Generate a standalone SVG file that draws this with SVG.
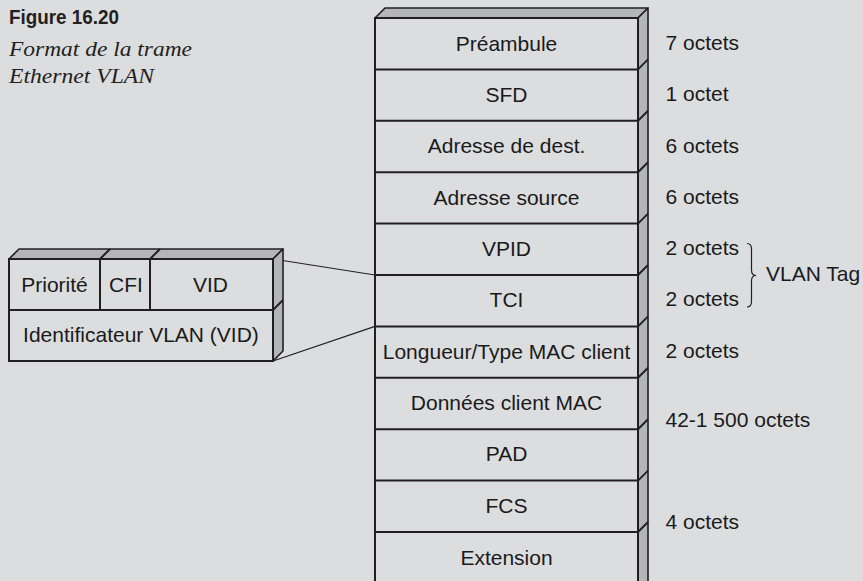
<svg xmlns="http://www.w3.org/2000/svg" width="863" height="581" viewBox="0 0 863 581">
<style>
.bg{fill:#dcdddf}
.face{fill:#dcdddf;stroke:#231f20;stroke-width:2}
.side{fill:#b4b5b8;stroke:#231f20;stroke-width:1.6;stroke-linejoin:round}
.ln{stroke:#231f20;stroke-width:2;fill:none}
.conn{stroke:#231f20;stroke-width:1.2;fill:none}
.t{font-family:"Liberation Sans",Arial,sans-serif;font-size:21px;fill:#1a1a1a}
.c{text-anchor:middle}
</style>
<rect class="bg" x="0" y="0" width="863" height="581"/>
<g id="caption">
<text x="9" y="23.5" font-family="'Liberation Sans',Arial,sans-serif" font-weight="bold" font-size="21" fill="#231f20" textLength="110" lengthAdjust="spacingAndGlyphs">Figure 16.20</text>
<text x="9" y="55.5" font-family="'Liberation Serif','Times New Roman',serif" font-style="italic" font-size="20" fill="#231f20" textLength="183" lengthAdjust="spacingAndGlyphs">Format de la trame</text>
<text x="9" y="82.5" font-family="'Liberation Serif','Times New Roman',serif" font-style="italic" font-size="20" fill="#231f20" textLength="145" lengthAdjust="spacingAndGlyphs">Ethernet VLAN</text>
</g>
<g id="connectors">
<line class="conn" x1="273" y1="259" x2="375" y2="275"/>
<line class="conn" x1="273" y1="361" x2="375" y2="326.4"/>
</g>
<g id="frame">
<polygon class="side" points="375,18 385,8 648,8 638,18"/>
<polygon class="side" points="638,18 648,8 648,590 638,600"/>
<rect class="face" x="375" y="18" width="263" height="570"/>
<g class="ln">
<line x1="638" y1="69.4" x2="648" y2="59.4"/>
<line x1="638" y1="120.8" x2="648" y2="110.8"/>
<line x1="638" y1="172.2" x2="648" y2="162.2"/>
<line x1="638" y1="223.6" x2="648" y2="213.6"/>
<line x1="638" y1="275" x2="648" y2="265"/>
<line x1="638" y1="326.4" x2="648" y2="316.4"/>
<line x1="638" y1="377.8" x2="648" y2="367.8"/>
<line x1="638" y1="429.2" x2="648" y2="419.2"/>
<line x1="638" y1="480.6" x2="648" y2="470.6"/>
<line x1="638" y1="532" x2="648" y2="522"/>
<line x1="375" y1="69.4" x2="638" y2="69.4"/>
<line x1="375" y1="120.8" x2="638" y2="120.8"/>
<line x1="375" y1="172.2" x2="638" y2="172.2"/>
<line x1="375" y1="223.6" x2="638" y2="223.6"/>
<line x1="375" y1="275" x2="638" y2="275"/>
<line x1="375" y1="326.4" x2="638" y2="326.4"/>
<line x1="375" y1="377.8" x2="638" y2="377.8"/>
<line x1="375" y1="429.2" x2="638" y2="429.2"/>
<line x1="375" y1="480.6" x2="638" y2="480.6"/>
<line x1="375" y1="532" x2="638" y2="532"/>
</g>
</g>
<g id="f-preambule"><text class="t c" x="506.5" y="50.7">Préambule</text></g>
<g id="f-sfd"><text class="t c" x="506.5" y="102">SFD</text></g>
<g id="f-dest"><text class="t c" x="506.5" y="153.4">Adresse de dest.</text></g>
<g id="f-src"><text class="t c" x="506.5" y="204.8">Adresse source</text></g>
<g id="f-vpid"><text class="t c" x="506.5" y="256">VPID</text></g>
<g id="f-tci"><text class="t c" x="506.5" y="307.4">TCI</text></g>
<g id="f-len"><text class="t c" x="506.5" y="358.6">Longueur/Type MAC client</text></g>
<g id="f-data"><text class="t c" x="506.5" y="410">Données client MAC</text></g>
<g id="f-pad"><text class="t c" x="506.5" y="461.4">PAD</text></g>
<g id="f-fcs"><text class="t c" x="506.5" y="512.8">FCS</text></g>
<g id="f-ext"><text class="t c" x="506.5" y="564.5">Extension</text></g>
<g id="sizes">
<text class="t" x="665.5" y="50">7 octets</text>
<text class="t" x="665.5" y="101">1 octet</text>
<text class="t" x="665.5" y="153">6 octets</text>
<text class="t" x="665.5" y="204">6 octets</text>
<text class="t" x="665.5" y="255">2 octets</text>
<text class="t" x="665.5" y="306">2 octets</text>
<text class="t" x="665.5" y="357.5">2 octets</text>
<text class="t" x="665.5" y="427">42-1 500 octets</text>
<text class="t" x="665.5" y="529">4 octets</text>
</g>
<g id="vlan-tag">
<path d="M747,243.5 Q751.5,243.5 751.5,249 L751.5,270 Q751.5,275.5 756,275.5 Q751.5,275.5 751.5,281 L751.5,301.5 Q751.5,307 747,307" stroke="#231f20" stroke-width="1.2" fill="none"/>
<text class="t" x="766" y="280.5">VLAN Tag</text>
</g>
<g id="tci-detail">
<polygon class="side" points="9,259 19,249 283,249 273,259"/>
<polygon class="side" points="273,259 283,249 283,351 273,361"/>
<rect class="face" x="9" y="259" width="264" height="102"/>
<g class="ln">
<line x1="9" y1="310" x2="273" y2="310"/>
<line x1="273" y1="310" x2="283" y2="300"/>
<line x1="100" y1="259" x2="100" y2="310"/>
<line x1="150" y1="259" x2="150" y2="310"/>
<line x1="100" y1="259" x2="110" y2="249"/>
<line x1="150" y1="259" x2="160" y2="249"/>
</g>
<text class="t c" x="54.5" y="291.5">Priorité</text>
<text class="t c" x="126" y="291.5">CFI</text>
<text class="t c" x="210.5" y="291.5">VID</text>
<text class="t c" x="141" y="341.7">Identificateur VLAN (VID)</text>
</g>
</svg>
